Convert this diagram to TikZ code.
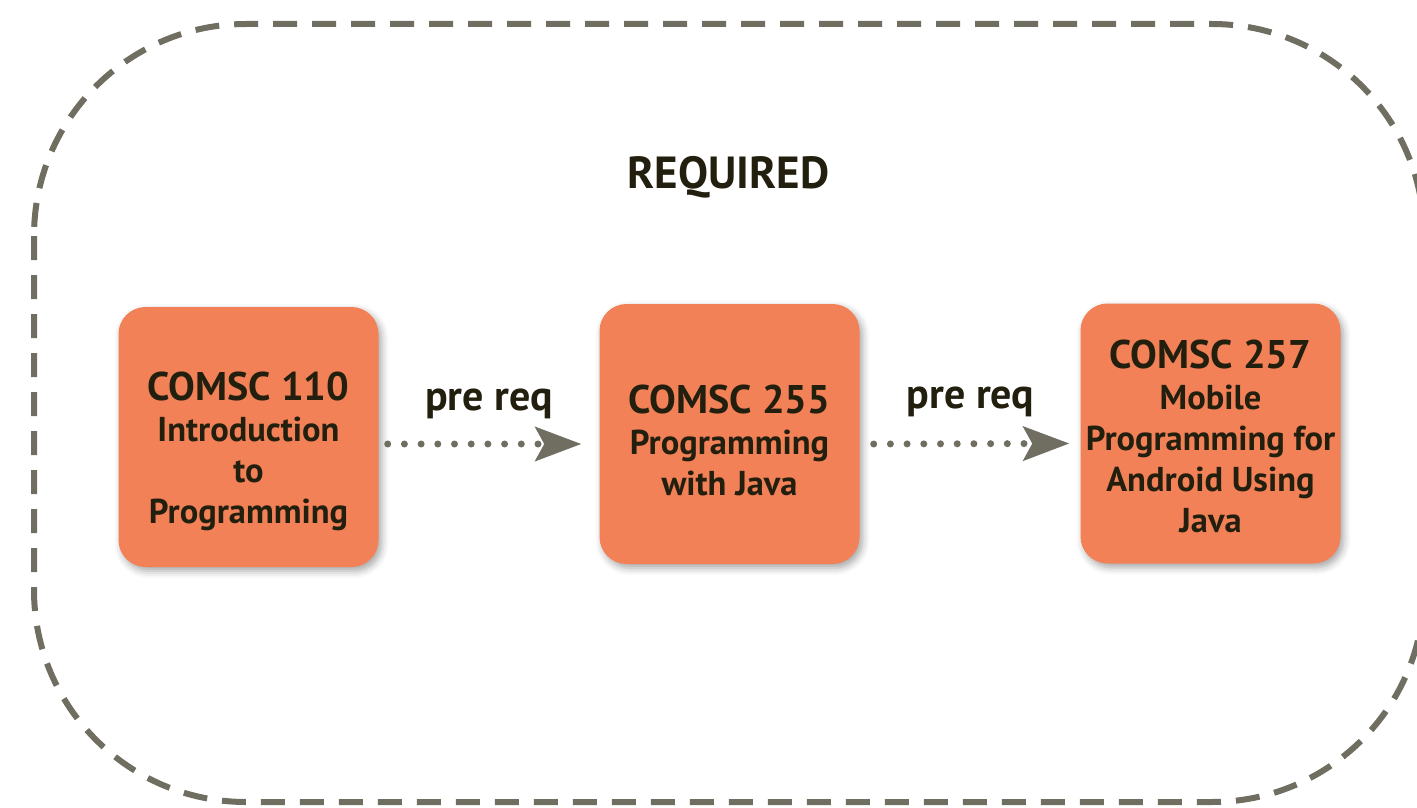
\documentclass[tikz,border=0pt]{standalone}
\usepackage{fontspec}
\setmainfont{PT Sans}
\usetikzlibrary{arrows.meta,shadows.blur}
\definecolor{boxfill}{HTML}{F28157}
\definecolor{ink}{HTML}{231F0E}
\definecolor{lineg}{HTML}{706E60}
\tikzset{
  coursebox/.style={fill=boxfill, draw=none, rounded corners=27pt,
    minimum width=260pt, minimum height=260pt, inner sep=0pt,
    blur shadow={shadow xshift=3pt, shadow yshift=-4pt, shadow blur radius=7pt, shadow opacity=35}},
  coursetext/.style={text=ink, align=center, anchor=north, inner sep=0pt,
    font=\fontsize{34.5}{41}\selectfont\bfseries},
  reqlabel/.style={text=ink, inner sep=0pt, font=\fontsize{42}{44}\selectfont\bfseries},
  prereq/.style={draw=lineg, line width=7pt, line cap=round, dash pattern=on 0pt off 16.7pt,
    -{Stealth[length=46pt, width=34pt, inset=9pt, fill=lineg]}},
  frame/.style={draw=lineg, line width=6pt, dash pattern=on 24pt off 15pt, rounded corners=212pt}
}
\begin{document}
\begin{tikzpicture}[x=1pt, y=-1pt]
\useasboundingbox (0,0) rectangle (1417,808);
\draw[frame] (34,24) rectangle (1424,802);
\node[text=ink, inner sep=0pt, font=\fontsize{45}{45}\selectfont\bfseries, anchor=base] (req) at (728.5,188) {REQUIRED};

\node[coursebox] (c110) at (248.5,437) {};
\node[coursebox] (c255) at (729.5,434) {};
\node[coursebox] (c257) at (1210.5,433.5) {};

\node[coursetext] (t110) at (248.5,372) {{\bfseries\fontsize{40}{41}\selectfont COMSC 110}\\Introduction\\to\\Programming};
\node[coursetext] (t255) at (729.5,385) {{\bfseries\fontsize{40}{41}\selectfont COMSC 255}\\Programming\\with Java};
\node[coursetext] (t257) at (1210.5,340) {{\bfseries\fontsize{40}{41}\selectfont COMSC 257}\\Mobile\\Programming for\\Android Using\\Java};

\draw[prereq] ([shift={(9,7)}]c110.east) -- ([shift={(-18,10)}]c255.west);
\draw[prereq] ([shift={(14,10)}]c255.east) -- ([shift={(-11,10)}]c257.west);

\node[reqlabel, anchor=base] (p1) at (489,410) {pre req};
\node[reqlabel, anchor=base] (p2) at (970.5,408) {pre req};
\end{tikzpicture}
\end{document}
